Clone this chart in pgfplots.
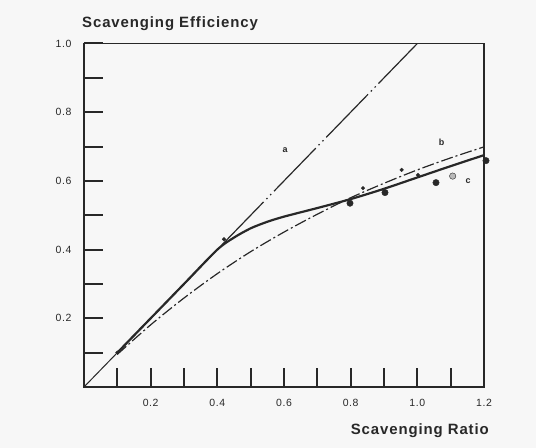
\documentclass[border=0pt]{standalone}
\usepackage{fontspec}
\setmainfont{Liberation Sans}
\usepackage{pgfplots}
\pgfplotsset{compat=1.18}
\definecolor{bg}{RGB}{247,247,247}
\definecolor{ink}{RGB}{40,40,40}
\begin{document}
\begin{tikzpicture}
\fill[bg] (-84bp,-61bp) rectangle (452bp,387bp);
\begin{axis}[
  at={(0,0)}, anchor=south west,
  scale only axis, width=400bp, height=343.5bp,
  xmin=0, xmax=1.2, ymin=0, ymax=1.0,
  clip=false,
  axis line style={line width=1.3bp, ink},
  xtick={0.2,0.4,0.6,0.8,1.0,1.2},
  xticklabels={0.2,0.4,0.6,0.8,1.0,1.2},
  minor xtick={0.1,0.3,0.5,0.7,0.9,1.1},
  ytick={0.2,0.4,0.6,0.8,1.0},
  yticklabels={0.2,0.4,0.6,0.8,1.0},
  minor ytick={0.1,0.3,0.5,0.7,0.9},
  tick align=inside, xtick pos=bottom, ytick pos=left,
  major tick length=19bp, minor tick length=19bp,
  every tick/.style={line width=2bp, ink},
  every minor tick/.style={line width=2bp, ink},
  tick label style={font=\fontsize{10.5}{12}\selectfont\addfontfeature{LetterSpace=6}, text=ink},
  /pgf/number format/assume math mode=true,
  xticklabel style={yshift=-9bp},
  yticklabel style={xshift=-9bp},
]
% thin start segment
\addplot[ink, line width=1bp] coordinates {(0,0) (0.1,0.1)};
% a: perfect displacement
\addplot[ink, line width=1.2bp, dash pattern=on 60bp off 4bp on 1.5bp off 4bp on 1.5bp off 4bp] coordinates {(0.1,0.1) (1.0,1.0)};
% b: perfect mixing
\addplot[ink, line width=1.2bp, smooth, dash pattern=on 12bp off 3bp on 2bp off 3bp] coordinates {
(0.1,0.095) (0.2,0.181) (0.3,0.259) (0.4,0.330) (0.5,0.394) (0.6,0.451) (0.7,0.503) (0.8,0.551) (0.9,0.593) (1.0,0.632) (1.1,0.667) (1.2,0.699)};
% c: model curve
\addplot[ink, line width=2.2bp, smooth, tension=0.45] coordinates {
(0.1,0.1) (0.2,0.2) (0.3,0.3) (0.4,0.4) (0.45,0.435) (0.5,0.462) (0.55,0.481) (0.6,0.496) (0.7,0.521) (0.8,0.547) (0.9,0.577) (1.0,0.610) (1.1,0.643) (1.2,0.675)};
% measured points
\addplot[only marks, mark=*, mark size=3.2bp, ink] coordinates {
(0.798,0.535) (0.903,0.566) (1.056,0.595) (1.206,0.659)};
\addplot[only marks, mark=*, mark size=3.2bp, draw=ink, fill=gray!55] coordinates {(1.106,0.614)};
\addplot[only marks, mark=*, mark size=1.8bp, ink] coordinates {
(0.1,0.1) (0.42,0.43) (0.837,0.579) (0.953,0.632) (1.002,0.617)};
\node[font=\fontsize{9}{10}\selectfont\bfseries, text=ink] at (axis cs:0.603,0.69) {a};
\node[font=\fontsize{9}{10}\selectfont\bfseries, text=ink] at (axis cs:1.073,0.711) {b};
\node[font=\fontsize{9}{10}\selectfont\bfseries, text=ink] at (axis cs:1.152,0.598) {c};
\node[anchor=base west, inner sep=0pt, font=\fontsize{15}{18}\selectfont\bfseries\addfontfeature{LetterSpace=6}, text=ink]
  at ([shift={(-2bp,16bp)}]rel axis cs:0,1) {Scavenging Efficiency};
\node[anchor=base east, inner sep=0pt, font=\fontsize{15}{18}\selectfont\bfseries\addfontfeature{LetterSpace=6}, text=ink]
  at ([shift={(5bp,-47bp)}]rel axis cs:1,0) {Scavenging Ratio};
\end{axis}
\pgfresetboundingbox
\path[use as bounding box] (-84bp,-61bp) rectangle (452bp,387bp);
\end{tikzpicture}
\end{document}
